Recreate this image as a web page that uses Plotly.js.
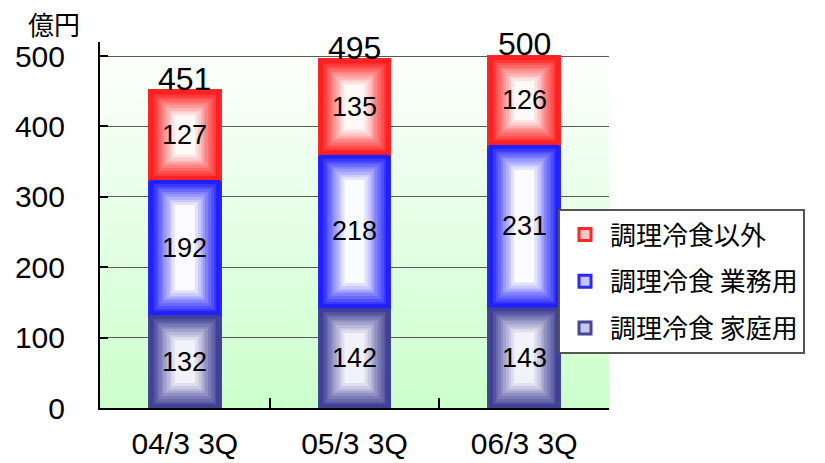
<!DOCTYPE html>
<html><head><meta charset="utf-8">
<script src="https://cdn.plot.ly/plotly-3.0.1.min.js"></script>
<style>html,body{margin:0;padding:0;background:#fff;}#chart{width:825px;height:463px;}</style>
</head><body><div id="chart"></div>
<script>
// ---- data ----
const categories = ['04/3 3Q', '05/3 3Q', '06/3 3Q'];
const seriesNames = ['調理冷食 家庭用', '調理冷食 業務用', '調理冷食以外'];
const household = [132, 142, 143];
const business = [192, 218, 231];
const other = [127, 135, 126];
const totals = [451, 495, 500];
const yTicks = [0, 100, 200, 300, 400, 500];
const yUnit = '億円';

// ---- styles ----
const W = 825, H = 463;
const M = {l: 100, r: 216, t: 42, b: 55};
const yMax = 520;
const bargap = 0.585;
const edgeColors = [[64, 64, 150], [32, 32, 255], [255, 32, 32]];
const centerColors = [[242, 242, 250], [250, 250, 255], [255, 250, 250]];
const legendFill = ['#c8c8e4', '#c8c8ff', '#ffc8c8'];
const legendLine = ['#46469a', '#2828ff', '#ff2828'];
const legendRanks = [3, 2, 1];
const FONT = 'Liberation Sans, Arial, Noto Sans CJK JP, sans-serif';
const CJK = 'Noto Sans CJK JP, sans-serif';

const plotW = W - M.l - M.r, plotH = H - M.t - M.b;
const pxPerUnit = plotH / yMax;
const barPx = plotW / categories.length * (1 - bargap);

function rgb(c) { return 'rgb(' + c.map(Math.round).join(',') + ')'; }
function boxGradient(w, h, edge, center) {
  const cv = document.createElement('canvas');
  cv.width = Math.max(1, Math.round(w)); cv.height = Math.max(1, Math.round(h));
  const ctx = cv.getContext('2d');
  const first = 4, band = 2.6, steps = 9;
  ctx.fillStyle = rgb(edge); ctx.fillRect(0, 0, cv.width, cv.height);
  for (let k = 1; k <= steps; k++) {
    const inset = first + (k - 1) * band;
    const t = k / steps;
    const c = edge.map((e, i) => e + (center[i] - e) * t);
    const rw = cv.width - 2 * inset, rh = cv.height - 2 * inset;
    if (rw <= 0 || rh <= 0) break;
    ctx.fillStyle = rgb(c);
    ctx.fillRect(Math.round(inset), Math.round(inset), Math.round(rw), Math.round(rh));
  }
  return cv.toDataURL();
}
function bgGradient() {
  const cv = document.createElement('canvas');
  cv.width = 4; cv.height = 256;
  const ctx = cv.getContext('2d');
  const g = ctx.createLinearGradient(0, 0, 0, 256);
  g.addColorStop(0, '#ffffff'); g.addColorStop(1, '#ccffcc');
  ctx.fillStyle = g; ctx.fillRect(0, 0, 4, 256);
  return cv.toDataURL();
}

const series = [household, business, other];
const traces = series.map((vals, s) => ({
  type: 'bar', name: seriesNames[s], x: categories, y: vals,
  legendgroup: 'g' + s, legendrank: legendRanks[s],
  marker: {color: legendFill[s], line: {color: legendLine[s], width: 3}},
  hoverinfo: 'name+y'
}));

const images = [{
  source: bgGradient(), xref: 'paper', yref: 'paper', x: 0, y: 1,
  sizex: 1, sizey: 1, sizing: 'stretch', xanchor: 'left', yanchor: 'top', layer: 'below'
}];
const annotations = [];
const w = 1 - bargap;
categories.forEach((cat, i) => {
  let base = 0;
  series.forEach((vals, s) => {
    const v = vals[i];
    images.push({
      source: boxGradient(barPx, v * pxPerUnit, edgeColors[s], centerColors[s]),
      xref: 'x', yref: 'y', x: i - w / 2, y: base + v, sizex: w, sizey: v,
      sizing: 'stretch', xanchor: 'left', yanchor: 'top', layer: 'above'
    });
    annotations.push({
      x: cat, y: base + v / 2, xref: 'x', yref: 'y', text: String(v),
      showarrow: false, font: {size: 27, family: FONT, color: '#000'}
    });
    base += v;
  });
  annotations.push({
    x: cat, y: totals[i], xref: 'x', yref: 'y', text: String(totals[i]),
    showarrow: false, yanchor: 'bottom', yshift: -8,
    font: {size: 32, family: FONT, color: '#000'}
  });
});
annotations.push({
  xref: 'paper', yref: 'paper', x: (54 - M.l) / plotW, y: 1 + (M.t - 23) / plotH,
  xanchor: 'center', yanchor: 'middle', text: yUnit, showarrow: false,
  font: {size: 26, family: CJK, color: '#000'}
});

const layout = {
  width: W, height: H,
  margin: {l: M.l, r: M.r, t: M.t, b: M.b, pad: 0, autoexpand: false},
  paper_bgcolor: '#ffffff', plot_bgcolor: 'rgba(0,0,0,0)',
  barmode: 'stack', bargap: bargap,
  font: {family: FONT, color: '#000'},
  showlegend: true,
  xaxis: {
    type: 'category', showline: true, linecolor: '#000', linewidth: 2,
    ticks: 'inside', tickson: 'boundaries', ticklen: 10, tickwidth: 2, tickcolor: '#000',
    tickfont: {size: 30, family: FONT, color: '#000'}, ticklabelstandoff: 8,
    showgrid: false, fixedrange: true
  },
  yaxis: {
    range: [0, yMax], tickmode: 'array', tickvals: yTicks, ticktext: yTicks.map(String),
    showline: true, linecolor: '#000', linewidth: 2,
    ticks: 'inside', ticklen: 8, tickwidth: 2, tickcolor: '#000',
    tickfont: {size: 30, family: FONT, color: '#000'}, ticklabelstandoff: 27,
    showgrid: true, gridcolor: '#5a5a5a', gridwidth: 1, zeroline: false, fixedrange: true
  },
  legend: {
    x: (558 - M.l) / plotW, xanchor: 'left',
    y: (H - M.b - 209) / plotH, yanchor: 'top',
    bgcolor: '#ffffff', bordercolor: '#555555', borderwidth: 2,
    font: {size: 26, family: CJK, color: '#000'},
    traceorder: 'grouped', tracegroupgap: 10, itemwidth: 40
  },
  images: images,
  annotations: annotations
};

Plotly.newPlot('chart', traces, layout, {displayModeBar: false, staticPlot: true});
</script>
</body></html>
